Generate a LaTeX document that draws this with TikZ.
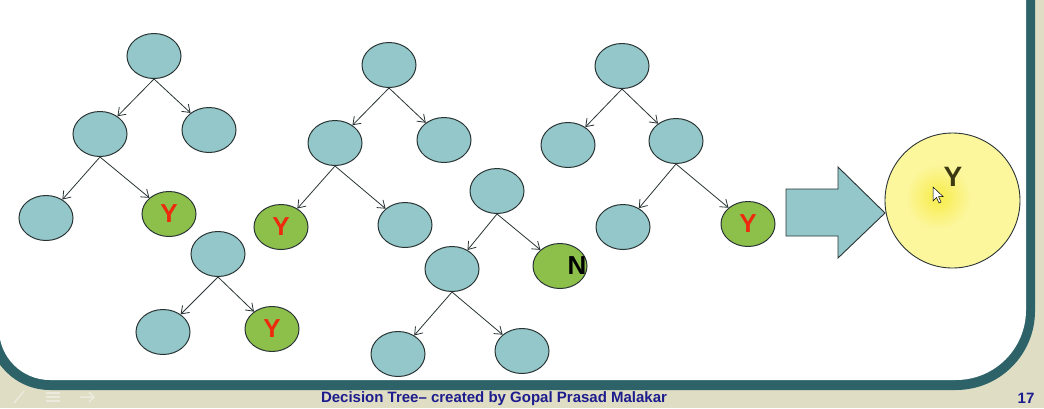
\documentclass[tikz,border=0pt]{standalone}
\usepackage{fontspec}
\setmainfont{Liberation Sans}
\usetikzlibrary{shapes.geometric,arrows.meta}
\definecolor{bgbeige}{HTML}{DFDDC3}
\definecolor{frameteal}{HTML}{2D6368}
\definecolor{nodeteal}{HTML}{93C7C9}
\definecolor{nodegreen}{HTML}{8DC04A}
\definecolor{linedark}{HTML}{2A3434}
\definecolor{yred}{HTML}{EE2A0E}
\definecolor{paleyellow}{HTML}{FCF69C}
\definecolor{glowyellow}{HTML}{F7EC48}
\definecolor{olive}{HTML}{3A3912}
\definecolor{footblue}{HTML}{1C1C8E}
\definecolor{faint}{HTML}{ECEADC}
\tikzset{
  bn/.style={ellipse, fill=nodeteal, draw=linedark, line width=1pt,
    minimum width=54pt, minimum height=45pt, inner sep=0pt},
  gn/.style={bn, fill=nodegreen},
  ed/.style={draw=linedark, line width=0.8pt, -{Straight Barb[length=7pt,width=10pt]}},
}
\newcommand{\yred}{\textcolor{yred}{\fontsize{26}{26}\selectfont\bfseries Y}}
\begin{document}
\begin{tikzpicture}[x=1pt,y=-1pt]
\useasboundingbox (0,0) rectangle (1044,408);
% background and frame
\fill[bgbeige] (0,0) rectangle (1044,408);
\fill[frameteal] (-12,-20) -- (1035,-20) -- (1035,311)
  arc[start angle=0,end angle=90,radius=79] -- (50,390)
  arc[start angle=90,end angle=180,radius=62] -- cycle;
\fill[white] (-1,-20) -- (1026,-20) -- (1026,310)
  arc[start angle=0,end angle=90,radius=70] -- (50,380)
  arc[start angle=90,end angle=180,radius=51] -- cycle;
% faint slide-show controls
\draw[faint, line width=1.5pt] (14,403) -- (24,391);
\draw[faint, line width=1.5pt] (46,393) -- (60,393) (46,397) -- (60,397) (46,401) -- (60,401);
\draw[faint, line width=1.5pt] (80,397) -- (94,397) (89,392) -- (94,397) -- (89,402);
% tree 1
\node[bn] (a1) at (154,56) {};
\node[bn] (a2) at (100,134) {};
\node[bn] (a3) at (209,130) {};
\node[bn] (a4) at (46,218) {};
\node[gn] (a5) at (169,214) {\yred};
\draw[ed] (a1.south) -- (a2);
\draw[ed] (a1.south) -- (a3);
\draw[ed] (a2.south) -- (a4);
\draw[ed] (a2.south) -- (a5);
% tree 4
\node[bn] (d1) at (218,254) {};
\node[bn] (d2) at (163,332) {};
\node[gn] (d3) at (272,329) {\yred};
\draw[ed] (d1.south) -- (d2);
\draw[ed] (d1.south) -- (d3);
% tree 2
\node[bn] (b1) at (389,65) {};
\node[bn] (b2) at (335,143) {};
\node[bn] (b3) at (444,140) {};
\node[gn] (b4) at (281,227) {\yred};
\node[bn] (b5) at (405,225) {};
\draw[ed] (b1.south) -- (b2);
\draw[ed] (b1.south) -- (b3);
\draw[ed] (b2.south) -- (b4);
\draw[ed] (b2.south) -- (b5);
% tree 3
\node[bn] (c1) at (497,191) {};
\node[bn] (c2) at (452,269) {};
\node[gn] (c3) at (560,266) {};
\node[font=\fontsize{26}{26}\selectfont\bfseries, text=black, inner sep=0pt] (c3t) at (577,266) {N};
\node[bn] (c4) at (398,354) {};
\node[bn] (c5) at (522,351) {};
\draw[ed] (c1.south) -- (c2);
\draw[ed] (c1.south) -- (c3);
\draw[ed] (c2.south) -- (c4);
\draw[ed] (c2.south) -- (c5);
% tree 5
\node[bn] (e1) at (622,66) {};
\node[bn] (e2) at (568,145) {};
\node[bn] (e3) at (676,141) {};
\node[bn] (e4) at (623,227) {};
\node[gn] (e5) at (748,224) {\yred};
\draw[ed] (e1.south) -- (e2);
\draw[ed] (e1.south) -- (e3);
\draw[ed] (e3.south) -- (e4);
\draw[ed] (e3.south) -- (e5);
% block arrow
\filldraw[fill=nodeteal, draw=linedark, line width=0.9pt]
  (786,189) -- (838,189) -- (838,167) -- (885,213) -- (838,258) -- (838,236) -- (786,236) -- cycle;
% result circle
\node[circle, fill=paleyellow, draw=linedark, line width=0.9pt, minimum size=135pt, inner sep=0pt] (res) at (952.5,200.5) {};
\shade[inner color=glowyellow, outer color=paleyellow] (938,197) circle[radius=32];
\node[font=\fontsize{28}{28}\selectfont\bfseries, text=olive, inner sep=0pt] (rest) at (953,177) {Y};
% mouse pointer
\filldraw[fill=white, draw=black, line width=0.5pt]
  (933,187) -- (933,201) -- (936.5,197.5) -- (939,203) -- (941,202) -- (938.5,196.5) -- (943,196.5) -- cycle;
% footer
\node[font=\fontsize{15}{15}\selectfont\bfseries, text=footblue, inner sep=0pt] (foot) at (494,398.5)
  {Decision Tree– created by Gopal Prasad Malakar};
\node[font=\fontsize{15}{15}\selectfont\bfseries, text=footblue, inner sep=0pt] (page) at (1026,398.5) {17};
\end{tikzpicture}
\end{document}
